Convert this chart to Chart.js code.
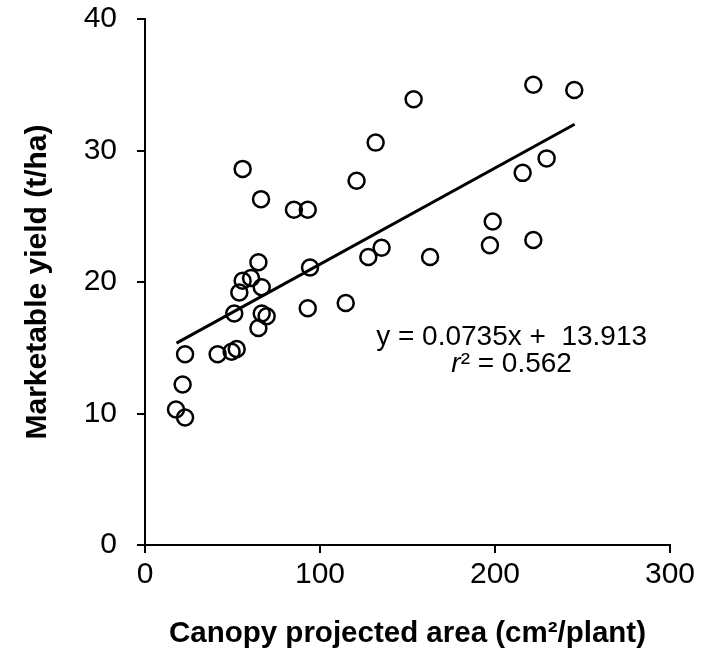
<!DOCTYPE html>
<html>
<head>
<meta charset="utf-8">
<title>Marketable yield vs canopy projected area</title>
<script src="https://cdn.jsdelivr.net/npm/chart.js@4.4.1/dist/chart.umd.min.js"></script>
<style>
    html, body { margin: 0; padding: 0; background: #fff; }
    #wrap { width: 705px; height: 653px; }
</style>
</head>
<body>
<div id="wrap"><canvas id="chart"></canvas></div>
<script>
// Canopy projected area (cm2/plant) and marketable yield (t/ha)
const areaValues = [17.7, 22.9, 21.5, 22.9, 41.5, 49.5, 52.4, 51.0, 53.9, 55.8, 60.6, 64.8,
    66.7, 66.7, 69.5, 64.8, 55.8, 66.3, 85.1, 93.0, 94.3, 93.0, 114.7, 120.9,
    127.6, 131.8, 135.2, 153.5, 162.9, 197.1, 198.7, 215.8, 221.9, 221.9, 229.5, 245.3];
const yieldValues = [10.3, 9.7, 12.2, 14.5, 14.5, 14.7, 14.9, 17.6, 19.2, 20.1, 20.3, 21.5,
    19.6, 17.6, 17.4, 16.5, 28.6, 26.3, 25.5, 25.5, 21.1, 18.0, 18.4, 27.7,
    21.9, 30.6, 22.6, 33.9, 21.9, 22.8, 24.6, 28.3, 23.2, 35.0, 29.4, 34.6];

// fitted line ends as drawn
const trendX = [18, 245.5];
const trendY = [15.35, 32.0];

const xTicks = [0, 100, 200, 300];
const yTicks = [0, 10, 20, 30, 40];

const equationText = 'y = 0.0735x +  13.913';
const r2Value = '0.562';

const FONT = '"Liberation Sans", Arial, sans-serif';
const EQ_SIZE = 28;

const points = areaValues.map((x, i) => ({ x: x, y: yieldValues[i] }));
const trend = trendX.map((x, i) => ({ x: x, y: trendY[i] }));

// equation + r² drawn inside the plot
const equationLabel = {
    id: 'equationLabel',
    afterDatasetsDraw(chart) {
        const ctx = chart.ctx;
        const xs = chart.scales.x, ys = chart.scales.y;
        const cx = xs.getPixelForValue(209.5);
        const reg = EQ_SIZE + 'px ' + FONT;
        const ital = 'italic ' + EQ_SIZE + 'px ' + FONT;
        ctx.save();
        ctx.fillStyle = '#000';
        ctx.textBaseline = 'middle';
        ctx.font = reg;
        ctx.textAlign = 'center';
        ctx.fillText(equationText, cx, ys.getPixelForValue(15.8));

        const y2 = ys.getPixelForValue(13.75);
        const rest = '\u00b2 = ' + r2Value;
        ctx.font = ital;
        const wr = ctx.measureText('r').width;
        ctx.font = reg;
        const wRest = ctx.measureText(rest).width;
        const start = cx - (wr + wRest) / 2;
        ctx.textAlign = 'left';
        ctx.font = ital;
        ctx.fillText('r', start, y2);
        ctx.font = reg;
        ctx.fillText(rest, start + wr, y2);
        ctx.restore();
    }
};

new Chart(document.getElementById('chart'), {
    type: 'scatter',
    data: {
        datasets: [{
            label: 'Observed',
            data: points,
            pointStyle: 'circle',
            pointRadius: 8,
            pointHoverRadius: 8,
            pointBorderWidth: 2.5,
            pointBackgroundColor: 'rgba(0,0,0,0)',
            pointBorderColor: '#000'
        }, {
            label: 'Linear fit',
            type: 'line',
            data: trend,
            borderColor: '#000',
            borderWidth: 3,
            pointRadius: 0,
            fill: false
        }]
    },
    options: {
        responsive: true,
        maintainAspectRatio: false,
        animation: false,
        layout: { padding: { top: 19, right: 35, bottom: 0, left: 0 } },
        plugins: {
            legend: { display: false },
            tooltip: { enabled: false }
        },
        scales: {
            x: {
                type: 'linear',
                min: 0,
                max: 300,
                afterBuildTicks: axis => { axis.ticks = xTicks.map(v => ({ value: v })); },
                afterFit: axis => {
                    axis.height = 108;
                    axis.paddingLeft = 0;
                    axis.paddingRight = 0;
                },
                grid: { drawOnChartArea: false, drawTicks: true, tickLength: 8, color: '#000', lineWidth: 2 },
                border: { display: true, color: '#000', width: 2 },
                ticks: { color: '#000', padding: 4, font: { family: FONT, size: 30 } },
                title: {
                    display: true,
                    text: 'Canopy projected area (cm\u00b2/plant)',
                    color: '#000',
                    font: { family: FONT, size: 29.5, weight: 'bold' },
                    padding: { top: 0, bottom: 1 }
                }
            },
            y: {
                type: 'linear',
                min: 0,
                max: 40,
                afterBuildTicks: axis => { axis.ticks = yTicks.map(v => ({ value: v })); },
                afterFit: axis => {
                    axis.width = 145;
                    axis.paddingTop = 0;
                    axis.paddingBottom = 0;
                },
                grid: { drawOnChartArea: false, drawTicks: true, tickLength: 8, color: '#000', lineWidth: 2 },
                border: { display: true, color: '#000', width: 2 },
                ticks: { color: '#000', padding: 20, font: { family: FONT, size: 30 } },
                title: {
                    display: true,
                    text: 'Marketable yield (t/ha)',
                    color: '#000',
                    font: { family: FONT, size: 30, weight: 'bold' },
                    padding: { top: 20, bottom: 0 }
                }
            }
        }
    },
    plugins: [equationLabel]
});
</script>
</body>
</html>
